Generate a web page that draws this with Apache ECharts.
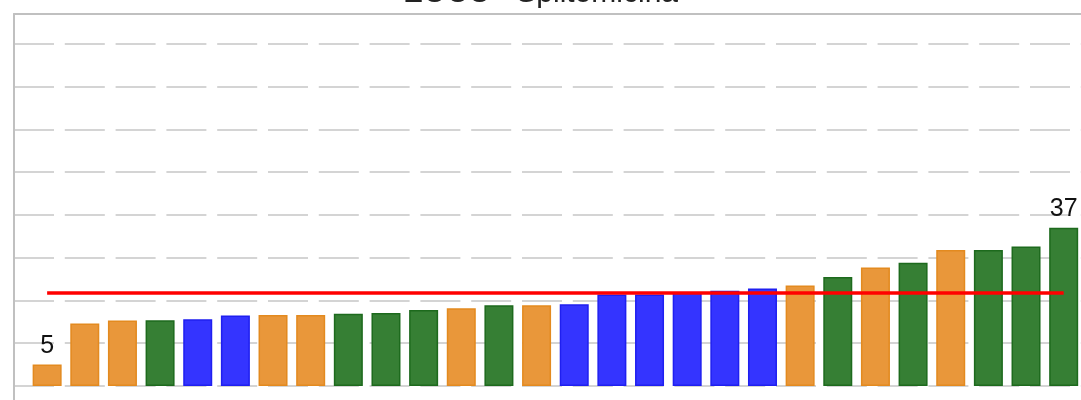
<!DOCTYPE html>
<html>
<head>
<meta charset="utf-8">
<script src="https://cdn.jsdelivr.net/npm/echarts@6/dist/echarts.min.js"></script>
<style>
    html, body { margin: 0; padding: 0; background: #fff; }
    #chart { width: 1081px; height: 400px; }
</style>
</head>
<body>
<div id="chart"></div>
<script>
    // data
    var categories = ['1', '2', '3', '4', '5', '6', '7', '8', '9', '10', '11', '12', '13', '14',
        '15', '16', '17', '18', '19', '20', '21', '22', '23', '24', '25', '26', '27', '28'];
    var values = [5, 14.6, 15.3, 15.4, 15.6, 16.5, 16.6, 16.6, 16.9, 17.1, 17.8, 18.2, 18.9, 18.9,
        19.1, 21.4, 21.4, 22.0, 22.3, 22.8, 23.5, 25.5, 27.7, 28.8, 31.8, 31.8, 32.6, 37];
    var groups = ['A', 'A', 'A', 'C', 'B', 'B', 'A', 'A', 'C', 'C', 'C', 'A', 'C', 'A',
        'B', 'B', 'B', 'B', 'B', 'B', 'A', 'C', 'A', 'C', 'A', 'C', 'C', 'C'];
    var refValue = 21.9;
    var labelled = [0, 27];   // bars with a value label

    var groupStyle = {
        A: {color: '#e9973a', borderColor: '#e38a1f'},
        B: {color: '#3434ff', borderColor: '#1f1ff0'},
        C: {color: '#367f34', borderColor: '#1d6a1d'}
    };

    var barData = values.map(function (v, i) {
        var st = groupStyle[groups[i]];
        return {
            value: [i, v],
            name: categories[i],
            itemStyle: {color: st.color, borderColor: st.borderColor, borderWidth: 1.5},
            label: {show: labelled.indexOf(i) >= 0}
        };
    });

    var chart = echarts.init(document.getElementById('chart'));
    chart.setOption({
        animation: false,
        title: {
            text: 'EOCC - Splitomicina',
            left: 'center',
            top: -26,
            textStyle: {fontFamily: 'Liberation Sans', fontSize: 30, fontWeight: 'normal', color: '#222'}
        },
        grid: {left: 14, right: 0, top: 14, bottom: -28.76, outerBoundsMode: 'none'},
        xAxis: [
            {
                type: 'value',
                min: -0.88,
                max: 27.46,
                axisLine: {show: false},
                axisTick: {show: false},
                axisLabel: {show: false},
                splitLine: {show: false}
            },
            {
                type: 'value',
                position: 'top',
                min: -0.88,
                max: 27.46,
                axisLine: {show: true, onZero: false, lineStyle: {color: '#c0c0c0', width: 2}},
                axisTick: {show: false},
                axisLabel: {show: false},
                splitLine: {show: false}
            }
        ],
        yAxis: {
            type: 'value',
            min: -10,
            max: 87,
            interval: 10,
            axisLine: {show: true, onZero: false, lineStyle: {color: '#c0c0c0', width: 2}},
            axisTick: {show: false},
            axisLabel: {show: false},
            splitLine: {
                show: true,
                showMaxLine: false,
                lineStyle: {color: '#d4d4d4', width: 2, type: [40, 10.8]}
            }
        },
        series: [{
            type: 'bar',
            barWidth: 29,
            data: barData,
            label: {
                show: false,
                position: 'top',
                distance: 6,
                formatter: function (p) { return p.value[1]; },
                fontFamily: 'Liberation Sans',
                fontSize: 25,
                color: '#111'
            },
            markLine: {
                silent: true,
                symbol: 'none',
                label: {show: false},
                lineStyle: {color: '#ff0000', width: 3.5, type: 'solid', opacity: 1},
                data: [[{coord: [0, refValue]}, {coord: [values.length - 1, refValue]}]]
            }
        }]
    });
</script>
</body>
</html>
